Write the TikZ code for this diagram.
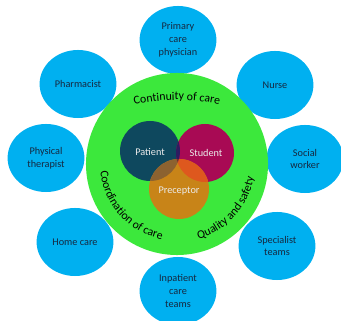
\documentclass[tikz,border=0pt]{standalone}
\usepackage{fontspec}
\setmainfont{Carlito}
\usetikzlibrary{shapes.geometric,decorations.text}

\definecolor{teamblue}{RGB}{0,176,240}
\definecolor{caregreen}{RGB}{60,232,60}
\definecolor{patientcol}{RGB}{14,72,94}
\definecolor{studentcol}{RGB}{168,10,84}
\definecolor{preceptorcol}{RGB}{200,132,24}
\definecolor{pscol}{RGB}{46,28,96}
\definecolor{ppcol}{RGB}{140,98,48}
\definecolor{spcol}{RGB}{222,88,30}
\definecolor{allcol}{RGB}{110,48,52}
\definecolor{labelcol}{RGB}{22,40,64}

\newcommand\arcfont{\fontsize{8.4}{10}\selectfont}

\tikzset{
  team/.style={ellipse, fill=teamblue, minimum width=1.92cm, minimum height=1.7cm,
    inner sep=0pt, align=center, text=labelcol, font=\fontsize{7.3}{9.2}\selectfont},
  innerlabel/.style={text=white!92!black, font=\fontsize{7.3}{9}\selectfont},
  arctext/.style={decorate, decoration={text along path, text align=center,
    text={|\arcfont|#1}}}
}

\begin{document}
\begin{tikzpicture}[x=0.025cm, y=0.025cm]
		%%%%% START %%%%%
		\useasboundingbox (0,0) rectangle (341,321);
		
		% teams around the care circle
		\node[team] (primary) at (178,281) {Primary\\care\\physician};
		\node[team] (pharmacist) at (78,237) {Pharmacist};
		\node[team] (nurse) at (275,236) {Nurse};
		\node[team] (physical) at (46,163) {Physical\\therapist};
		\node[team] (social) at (305,162) {Social\\worker};
		\node[team] (homecare) at (75,79) {Home care};
		\node[team] (inpatient) at (178,30) {Inpatient\\care\\teams};
		\node[team] (specialist) at (277,75) {Specialist\\teams};
		
		\node[circle, fill=caregreen, minimum size=4.55cm] (care) at (177,157) {};
		
		% the three circles in the middle
		\fill[patientcol] (150,170) circle (30);
		\fill[studentcol] (205,168) circle (29);
		\fill[preceptorcol] (179,132) circle (30);
		\begin{scope}
			\clip (150,170) circle (30);
			\fill[pscol] (205,168) circle (29);
			\fill[ppcol] (179,132) circle (30);
		\end{scope}
		\begin{scope}
			\clip (205,168) circle (29);
			\fill[spcol] (179,132) circle (30);
		\end{scope}
		\begin{scope}
			\clip (150,170) circle (30);
			\clip (205,168) circle (29);
			\fill[allcol] (179,132) circle (30);
		\end{scope}
		
		% curved captions
		\path[arctext=Continuity of care] (177,21) ++(110:200) arc (110:70:200);
		\path[arctext=Coordination of care] (care.center) ++(178:77) arc (178:266:77);
		\path[arctext=Quality and safety] (care.center) ++(280:78) arc (280:356:78);
		
		\node[innerlabel] (patient) at (150,169) {Patient};
		\node[innerlabel] (student) at (206,168) {Student};
		\node[innerlabel] (preceptor) at (179,130) {Preceptor};
		%%%%% END %%%%%
	\end{tikzpicture}
\end{document}
